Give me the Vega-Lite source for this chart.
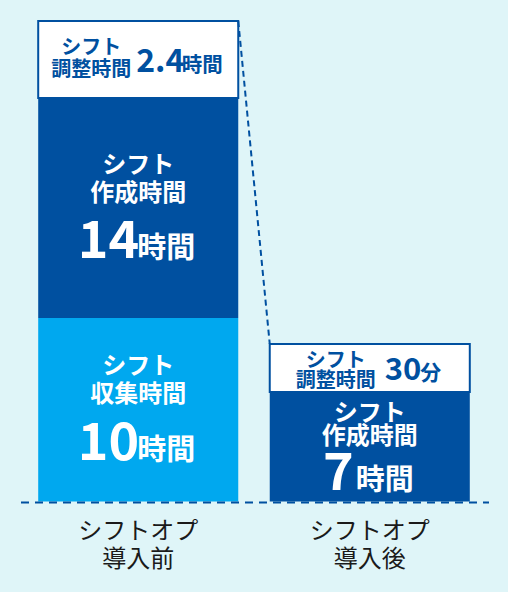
{
  "$schema": "https://vega.github.io/schema/vega-lite/v6.json",
  "width": 508,
  "height": 592,
  "autosize": {"type": "fit", "contains": "padding"},
  "padding": 0,
  "background": "#dff5f8",
  "data": {
    "values": [
      {"phase": "シフトオプ導入前", "seg": "収集", "label": "シフト収集時間", "hours": 10, "drawn": 10.08, "order": 1},
      {"phase": "シフトオプ導入前", "seg": "作成", "label": "シフト作成時間", "hours": 14, "drawn": 12.09, "order": 2},
      {"phase": "シフトオプ導入前", "seg": "調整", "label": "シフト調整時間", "hours": 2.4, "drawn": 4.23, "order": 3},
      {"phase": "シフトオプ導入後", "seg": "作成", "label": "シフト作成時間", "hours": 7, "drawn": 6.02, "order": 2},
      {"phase": "シフトオプ導入後", "seg": "調整", "label": "シフト調整時間", "hours": 0.5, "drawn": 2.64, "order": 3}
    ]
  },
  "transform": [
    {"stack": "drawn", "groupby": ["phase"], "sort": [{"field": "order", "order": "ascending"}], "as": ["y0", "y1"]},
    {"calculate": "(datum.y0 + datum.y1) / 2", "as": "ym"},
    {"calculate": "replace(datum.label, 'シフト', 'シフト\\n')", "as": "name"},
    {"calculate": "datum.hours < 1 ? '' + datum.hours * 60 : '' + datum.hours", "as": "num"},
    {"calculate": "datum.hours < 1 ? '分' : '時間'", "as": "unit"}
  ],
  "layer": [
    {
      "mark": {"type": "bar", "strokeWidth": 2},
      "encoding": {
        "x": {"field": "phase", "type": "nominal", "scale": {"domain": ["シフトオプ導入前", "シフトオプ導入後"], "paddingInner": 0.136, "paddingOuter": 0.165}, "axis": null},
        "y": {"field": "y0", "type": "quantitative", "scale": {"domain": [-4.973, 27.555], "nice": false, "zero": false}, "axis": null},
        "y2": {"field": "y1"},
        "color": {"field": "seg", "type": "nominal", "scale": {"domain": ["収集", "作成", "調整"], "range": ["#00a8ef", "#0050a0", "#ffffff"]}, "legend": null},
        "stroke": {"condition": {"test": "datum.seg === '調整'", "value": "#0050a0"}, "value": "transparent"}
      }
    },
    {
      "transform": [{"filter": "datum.seg === '調整'"}, {"pivot": "phase", "value": "y1"}],
      "mark": {"type": "rule", "color": "#0050a0", "strokeWidth": 2, "strokeDash": [6, 4]},
      "encoding": {
        "x": {"datum": "シフトオプ導入前", "type": "nominal", "bandPosition": 1},
        "x2": {"datum": "シフトオプ導入後", "bandPosition": 0},
        "y": {"field": "シフトオプ導入前", "type": "quantitative", "scale": {"domain": [-4.973, 27.555], "nice": false, "zero": false}},
        "y2": {"field": "シフトオプ導入後"}
      }
    },
    {
      "transform": [{"filter": "datum.order === 1"}],
      "mark": {"type": "rule", "color": "#0050a0", "strokeWidth": 2, "strokeDash": [8, 6], "yOffset": 1},
      "encoding": {
        "x": {"datum": "シフトオプ導入前", "type": "nominal", "bandPosition": -0.086},
        "x2": {"datum": "シフトオプ導入後", "bandPosition": 1.096},
        "y": {"field": "y0", "type": "quantitative", "scale": {"domain": [-4.973, 27.555], "nice": false, "zero": false}}
      }
    },
    {
      "transform": [{"filter": "datum.phase === 'シフトオプ導入前' && datum.seg !== '調整'"}],
      "mark": {"type": "text", "font": "Noto Sans CJK JP", "fontSize": 24, "fontWeight": "bold", "color": "#ffffff", "lineBreak": "\n", "lineHeight": 28, "baseline": "middle", "dy": -42.5},
      "encoding": {
        "x": {"field": "phase", "type": "nominal"},
        "y": {"field": "ym", "type": "quantitative", "scale": {"domain": [-4.973, 27.555], "nice": false, "zero": false}},
        "text": {"field": "name"}
      }
    },
    {
      "transform": [{"filter": "datum.phase === 'シフトオプ導入前' && datum.seg !== '調整'"}],
      "mark": {"type": "text", "font": "Noto Sans CJK JP", "fontSize": 52, "fontWeight": "bold", "color": "#ffffff", "align": "right", "baseline": "alphabetic", "dx": 1, "dy": 50},
      "encoding": {
        "x": {"field": "phase", "type": "nominal"},
        "y": {"field": "ym", "type": "quantitative", "scale": {"domain": [-4.973, 27.555], "nice": false, "zero": false}},
        "text": {"field": "num"}
      }
    },
    {
      "transform": [{"filter": "datum.phase === 'シフトオプ導入前' && datum.seg !== '調整'"}],
      "mark": {"type": "text", "font": "Noto Sans CJK JP", "fontSize": 29, "fontWeight": "bold", "color": "#ffffff", "align": "left", "baseline": "alphabetic", "dx": -1, "dy": 50},
      "encoding": {
        "x": {"field": "phase", "type": "nominal"},
        "y": {"field": "ym", "type": "quantitative", "scale": {"domain": [-4.973, 27.555], "nice": false, "zero": false}},
        "text": {"field": "unit"}
      }
    },
    {
      "transform": [{"filter": "datum.phase === 'シフトオプ導入後' && datum.seg === '作成'"}],
      "mark": {"type": "text", "font": "Noto Sans CJK JP", "fontSize": 24, "fontWeight": "bold", "color": "#ffffff", "lineBreak": "\n", "lineHeight": 23, "baseline": "middle", "dy": -33},
      "encoding": {
        "x": {"field": "phase", "type": "nominal"},
        "y": {"field": "ym", "type": "quantitative", "scale": {"domain": [-4.973, 27.555], "nice": false, "zero": false}},
        "text": {"field": "name"}
      }
    },
    {
      "transform": [{"filter": "datum.phase === 'シフトオプ導入後' && datum.seg === '作成'"}],
      "mark": {"type": "text", "font": "Noto Sans CJK JP", "fontSize": 52, "fontWeight": "bold", "color": "#ffffff", "align": "right", "baseline": "alphabetic", "dx": -16, "dy": 43},
      "encoding": {
        "x": {"field": "phase", "type": "nominal"},
        "y": {"field": "ym", "type": "quantitative", "scale": {"domain": [-4.973, 27.555], "nice": false, "zero": false}},
        "text": {"field": "num"}
      }
    },
    {
      "transform": [{"filter": "datum.phase === 'シフトオプ導入後' && datum.seg === '作成'"}],
      "mark": {"type": "text", "font": "Noto Sans CJK JP", "fontSize": 29, "fontWeight": "bold", "color": "#ffffff", "align": "left", "baseline": "alphabetic", "dx": -14, "dy": 43},
      "encoding": {
        "x": {"field": "phase", "type": "nominal"},
        "y": {"field": "ym", "type": "quantitative", "scale": {"domain": [-4.973, 27.555], "nice": false, "zero": false}},
        "text": {"field": "unit"}
      }
    },
    {
      "transform": [{"filter": "datum.phase === 'シフトオプ導入前' && datum.seg === '調整'"}],
      "mark": {"type": "text", "font": "Noto Sans CJK JP", "fontSize": 20, "fontWeight": "bold", "color": "#0050a0", "lineBreak": "\n", "lineHeight": 22, "baseline": "middle", "dx": -47, "dy": -11.5},
      "encoding": {
        "x": {"field": "phase", "type": "nominal"},
        "y": {"field": "ym", "type": "quantitative", "scale": {"domain": [-4.973, 27.555], "nice": false, "zero": false}},
        "text": {"field": "name"}
      }
    },
    {
      "transform": [{"filter": "datum.phase === 'シフトオプ導入前' && datum.seg === '調整'"}],
      "mark": {"type": "text", "font": "Noto Sans CJK JP", "fontSize": 32, "fontWeight": "bold", "color": "#0050a0", "align": "left", "baseline": "alphabetic", "dx": -2, "dy": 12.5},
      "encoding": {
        "x": {"field": "phase", "type": "nominal"},
        "y": {"field": "ym", "type": "quantitative", "scale": {"domain": [-4.973, 27.555], "nice": false, "zero": false}},
        "text": {"field": "num"}
      }
    },
    {
      "transform": [{"filter": "datum.phase === 'シフトオプ導入前' && datum.seg === '調整'"}],
      "mark": {"type": "text", "font": "Noto Sans CJK JP", "fontSize": 20.5, "fontWeight": "bold", "color": "#0050a0", "align": "left", "baseline": "alphabetic", "dx": 43.5, "dy": 12.5},
      "encoding": {
        "x": {"field": "phase", "type": "nominal"},
        "y": {"field": "ym", "type": "quantitative", "scale": {"domain": [-4.973, 27.555], "nice": false, "zero": false}},
        "text": {"field": "unit"}
      }
    },
    {
      "transform": [{"filter": "datum.phase === 'シフトオプ導入後' && datum.seg === '調整'"}],
      "mark": {"type": "text", "font": "Noto Sans CJK JP", "fontSize": 20, "fontWeight": "bold", "color": "#0050a0", "lineBreak": "\n", "lineHeight": 20, "baseline": "middle", "dx": -34, "dy": -7},
      "encoding": {
        "x": {"field": "phase", "type": "nominal"},
        "y": {"field": "ym", "type": "quantitative", "scale": {"domain": [-4.973, 27.555], "nice": false, "zero": false}},
        "text": {"field": "name"}
      }
    },
    {
      "transform": [{"filter": "datum.phase === 'シフトオプ導入後' && datum.seg === '調整'"}],
      "mark": {"type": "text", "font": "Noto Sans CJK JP", "fontSize": 31, "fontWeight": "bold", "color": "#0050a0", "align": "left", "baseline": "alphabetic", "dx": 15, "dy": 12},
      "encoding": {
        "x": {"field": "phase", "type": "nominal"},
        "y": {"field": "ym", "type": "quantitative", "scale": {"domain": [-4.973, 27.555], "nice": false, "zero": false}},
        "text": {"field": "num"}
      }
    },
    {
      "transform": [{"filter": "datum.phase === 'シフトオプ導入後' && datum.seg === '調整'"}],
      "mark": {"type": "text", "font": "Noto Sans CJK JP", "fontSize": 21, "fontWeight": "bold", "color": "#0050a0", "align": "left", "baseline": "alphabetic", "dx": 50.5, "dy": 12},
      "encoding": {
        "x": {"field": "phase", "type": "nominal"},
        "y": {"field": "ym", "type": "quantitative", "scale": {"domain": [-4.973, 27.555], "nice": false, "zero": false}},
        "text": {"field": "unit"}
      }
    },
    {
      "transform": [
        {"filter": "datum.seg === '調整'"},
        {"calculate": "replace(datum.phase, '導入', '\\n導入')", "as": "phaseLabel"}
      ],
      "mark": {"type": "text", "font": "Noto Sans CJK JP", "fontSize": 24, "letterSpacing": -1.5, "color": "#1a1a1a", "lineBreak": "\n", "lineHeight": 28.5, "baseline": "middle", "dy": 30.5},
      "encoding": {
        "x": {"field": "phase", "type": "nominal"},
        "y": {"datum": 0, "type": "quantitative", "scale": {"domain": [-4.973, 27.555], "nice": false, "zero": false}},
        "text": {"field": "phaseLabel"}
      }
    }
  ],
  "config": {"view": {"stroke": null}, "axis": {"disable": true}}
}
